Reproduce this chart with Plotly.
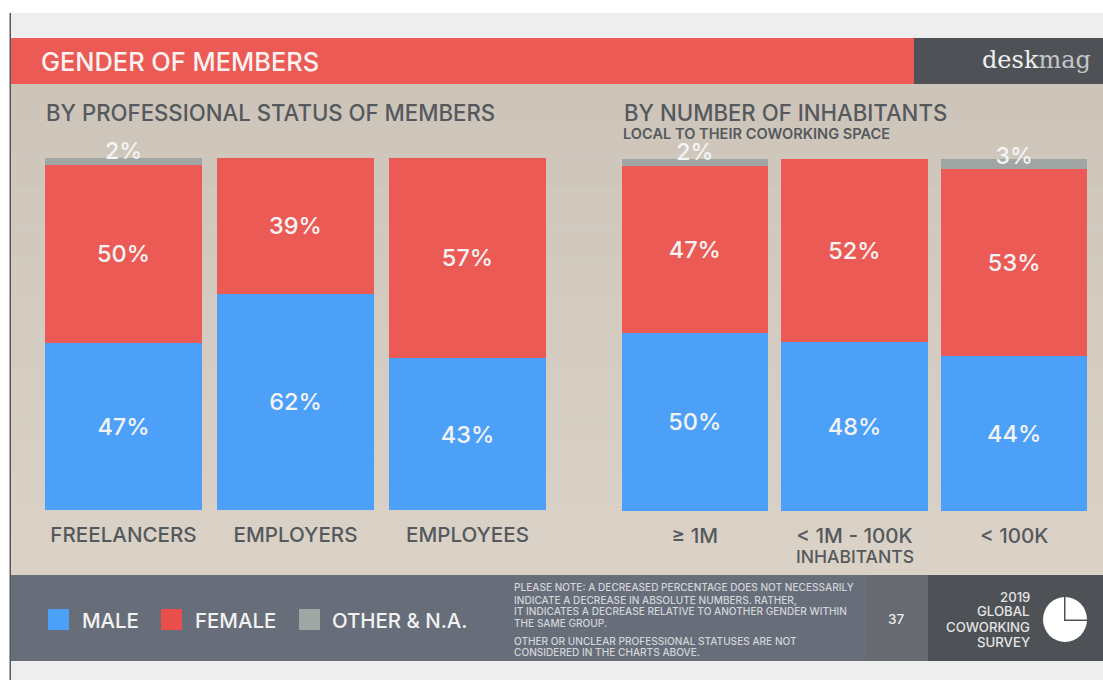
import plotly.graph_objects as go

W, H = 1103, 680

# ---- data ----
status_categories = ["FREELANCERS", "EMPLOYERS", "EMPLOYEES"]
status_male = [47, 62, 43]
status_female = [50, 39, 57]
status_other = [2, 0, 0]

town_categories = ["≥ 1M", "< 1M - 100K", "< 100K"]
town_male = [50, 48, 44]
town_female = [47, 52, 53]
town_other = [2, 0, 3]

legend_labels = ["MALE", "FEMALE", "OTHER & N.A."]
note_lines = [
    "PLEASE NOTE: A DECREASED PERCENTAGE DOES NOT NECESSARILY",
    "INDICATE A DECREASE IN ABSOLUTE NUMBERS. RATHER,",
    "IT INDICATES A DECREASE RELATIVE TO ANOTHER GENDER WITHIN",
    "THE SAME GROUP.",
    "OTHER OR UNCLEAR PROFESSIONAL STATUSES ARE NOT",
    "CONSIDERED IN THE CHARTS ABOVE.",
]
survey_lines = ["2019", "GLOBAL", "COWORKING", "SURVEY"]

# ---- style ----
BLUE, RED, GREY = "#4da0f8", "#ec5a55", "#a0a6a4"
DARK = "#4e5257"
FONT = "Inter, 'DejaVu Sans', sans-serif"
TEXT = "#55595d"
SOFT = "#f4f4f4"
Y_MAX = 110


def px(x):
    return x / W


def py(y):
    return 1 - y / H


fig = go.Figure()


def add_panel(xaxis, yaxis, cats, male, female, other, width):
    for name, vals, col in (("Male", male, BLUE), ("Female", female, RED)):
        fig.add_bar(
            x=cats, y=vals, name=name, xaxis=xaxis, yaxis=yaxis, width=width,
            marker=dict(color=col, line_width=0), showlegend=False,
            text=[f"{v}%" for v in vals], textposition="inside",
            insidetextanchor="middle", constraintext="none",
            textangle=0,
            insidetextfont=dict(family=FONT, size=23.5, color=SOFT, weight=500),
        )
    fig.add_bar(
        x=cats, y=other, name="Other & N.A.", xaxis=xaxis, yaxis=yaxis, width=width,
        marker=dict(color=GREY, line_width=0), showlegend=False,
    )
    # The thin "other" segments carry their label just above the stack.
    shown = [(c, v) for c, v in zip(cats, other) if v > 0]
    fig.add_scatter(
        x=[c for c, _ in shown],
        y=[100 + 1.13 * (3.0 - v) for _, v in shown],
        text=[f"{v}%" for _, v in shown],
        mode="text", textposition="middle center", xaxis=xaxis, yaxis=yaxis,
        textfont=dict(family=FONT, size=23, color=SOFT, weight=500),
        showlegend=False, hoverinfo="skip",
    )


add_panel("x", "y", status_categories, status_male, status_female, status_other, 0.913)
add_panel("x2", "y2", town_categories, town_male, town_female, town_other, 0.918)

axis_common = dict(
    type="category", showgrid=False, zeroline=False, showline=False,
    ticks="outside", ticklen=6, tickcolor="rgba(0,0,0,0)",
    tickfont=dict(family=FONT, size=20.6, color=TEXT, weight=500),
)
yaxis_common = dict(range=[0, Y_MAX], visible=False, fixedrange=True)

shapes = []


def rect(x0, y0, x1, y1, color):
    shapes.append(dict(type="rect", xref="paper", yref="paper", layer="below",
                       x0=px(x0), x1=px(x1), y0=py(y0), y1=py(y1),
                       fillcolor=color, line_width=0))


rect(10, 13, W, H, "#eeeeee")
rect(10, 38, W, 84, RED)
rect(914, 38, W, 84, DARK)

# soft vertical wash of the panel background
STEPS = 28
top, bottom = (205, 197, 186), (218, 210, 198)
for i in range(STEPS):
    t = i / (STEPS - 1)
    c = tuple(round(a + (b - a) * t) for a, b in zip(top, bottom))
    y0 = 84 + (575 - 84) * i / STEPS
    y1 = 84 + (575 - 84) * (i + 1) / STEPS
    rect(10, y0, W, y1 + 0.5, f"rgb{c}")

rect(10, 575, 866, 661, "#676e7a")
rect(866, 575, 928, 661, "#676a70")
rect(928, 575, W, 661, DARK)
rect(9.5, 13, 11, H, "#55585c")

# legend swatches
for x0, col in ((48, BLUE), (161, "#ea4f4b"), (299, GREY)):
    rect(x0, 609, x0 + 21, 630, col)

# survey pie icon
shapes.append(dict(type="circle", xref="paper", yref="paper", layer="above",
                   x0=px(1043), x1=px(1087), y0=py(642), y1=py(597),
                   fillcolor="#ffffff", line_width=0))
for x0, y0, x1, y1 in ((1064, 597, 1065.5, 621), (1064, 619.5, 1088, 621)):
    shapes.append(dict(type="rect", xref="paper", yref="paper", layer="above",
                       x0=px(x0), x1=px(x1), y0=py(y1), y1=py(y0),
                       fillcolor=DARK, line_width=0))

annotations = []


def label(x, y, text, size, color, anchor="left", font=FONT, weight=500):
    annotations.append(dict(
        xref="paper", yref="paper", x=px(x), y=py(y), text=text, showarrow=False,
        xanchor=anchor, yanchor="middle", align=anchor,
        font=dict(family=font, size=size, color=color, weight=weight),
        borderpad=0, borderwidth=0,
    ))


label(41, 61, "GENDER OF MEMBERS", 25.4, "#fbf3f2")
label(1091, 60,
      "<span style='color:#f0f0f0'>desk</span><span style='color:#c3c6c8'>mag</span>",
      24, "#e6e6e6", "right", "'DejaVu Serif', serif", 400)
label(46, 113, "BY PROFESSIONAL STATUS OF MEMBERS", 22.2, TEXT)
label(624, 113, "BY NUMBER OF INHABITANTS", 22.2, TEXT)
label(623, 134, "LOCAL TO THEIR COWORKING SPACE", 14.6, TEXT, weight=600)
label(855, 556, "INHABITANTS", 17.5, TEXT, "center")

for x, text in zip((82, 195, 332), legend_labels):
    label(x, 620, text, 20.4, "#f2f2f2")

for y, text in zip((587, 600, 611, 623, 641, 652), note_lines):
    label(514, y, text, 10.1, "#d3d5d9")

label(896, 619, "37", 13.5, "#eeeeee", "center")
for y, text in zip((597, 611, 627, 642), survey_lines):
    label(1030, y, text, 13.2, "#e4e4e4", "right")

unit = (510 - 157.5) / 100
fig.update_layout(
    width=W, height=H, autosize=False,
    margin=dict(l=0, r=0, t=0, b=0, pad=0),
    paper_bgcolor="#ffffff", plot_bgcolor="rgba(0,0,0,0)",
    barmode="stack", barnorm="percent", bargap=0.08,
    hovermode="closest",
    xaxis=dict(domain=[px(37.5), px(553.5)], anchor="y", **axis_common),
    yaxis=dict(domain=[py(510), py(510 - Y_MAX * unit)], anchor="x", **yaxis_common),
    xaxis2=dict(domain=[px(615), px(1094)], anchor="y2", **axis_common),
    yaxis2=dict(domain=[py(511), py(511 - Y_MAX * unit)], anchor="x2", **yaxis_common),
    shapes=shapes, annotations=annotations,
)

fig.write_html("out.html", config={"displayModeBar": False},
               post_script="document.body.style.margin='0';document.body.style.overflow='hidden';")
